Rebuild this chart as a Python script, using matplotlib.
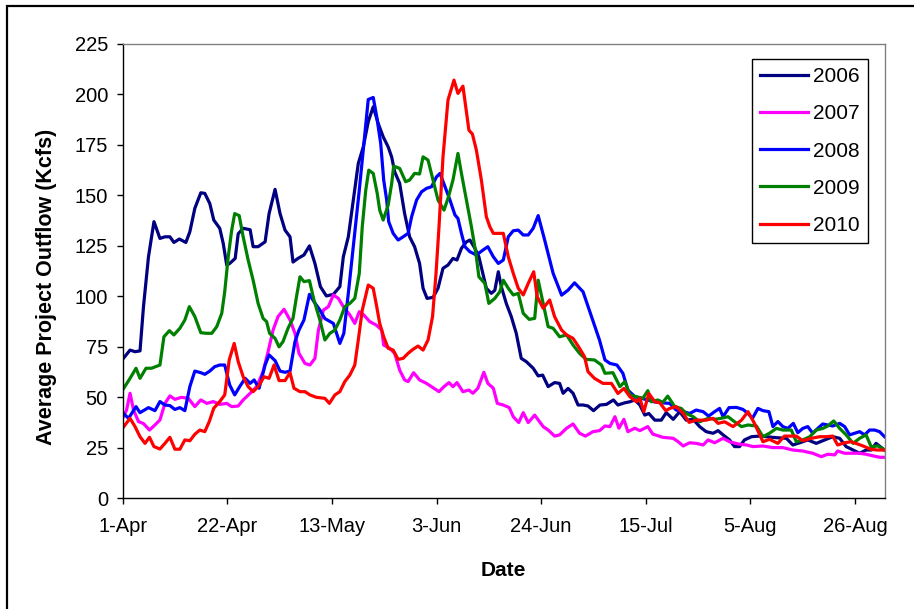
import matplotlib
matplotlib.use('Agg')
import matplotlib.pyplot as plt
from matplotlib.patches import Rectangle

plt.rcParams['font.family'] = ['Liberation Sans', 'DejaVu Sans']

# days counted from 1-Apr
tick_days = [0, 21, 42, 63, 84, 105, 126, 147]
tick_labels = ['1-Apr', '22-Apr', '13-May', '3-Jun', '24-Jun', '15-Jul', '5-Aug', '26-Aug']

d06 = [0, 1.5, 2.5, 3.5, 4.2, 5.2, 6.3, 7.5, 8.5, 9.5, 10.3, 11.4, 12.7, 13.5, 14.5, 15.7, 16.5, 17.5, 18.3, 19.5,
       20.2, 20.9, 21.5, 22.6, 23.2, 24.2, 25.6, 26.2, 27.2, 28.6, 29.4, 30.6, 31.6, 32.6, 33.6, 34.2, 35.2, 36.4, 37.5, 38.6,
       39.7, 40.9, 42.3, 43.6, 44.3, 45.3, 46.3, 47.3, 48.3, 49.3, 50.3, 51.3, 52.3, 53.3, 54, 54.6, 55.6, 56.6, 57.6, 58.6,
       59.6, 60.3, 61.1, 62.3, 63.3, 64.3, 65.3, 66.3, 67.1, 68, 69, 69.7, 70.7, 71.5, 72.3, 73, 74, 74.7, 75.4, 76,
       77, 78, 79, 80, 81, 82.4, 83.4, 84.3, 85.4, 86.7, 87.7, 88.4, 89.4, 90.4, 91.4, 92.4, 93.4, 94.5, 95.8, 97.1,
       98.5, 99.4, 100.8, 101.8, 102.8, 103.8, 104.8, 105.6, 106.8, 108.1, 109.1, 110.5, 111.8, 113.1, 114.5, 115.8, 117.1, 118.5, 119.5, 120.5,
       121.8, 122.8, 123.8, 124.8, 126.2, 127.8, 129.2, 131.2, 133.2, 134.5, 135.9, 137.5, 139.2, 140.9, 142.5, 143.9, 145.2, 146.6, 147.9, 149.2,
       150.2, 151.2, 152.9]
v06 = [68.8, 73.4, 72.6, 73, 95, 119.6, 137, 128.7, 129.5, 129.5, 126.7, 128.4, 126.7, 132, 143.6, 151.3, 151, 146, 137.8, 133.7,
       126.2, 115.5, 116.3, 118.8, 131, 133.7, 133, 124.6, 124.6, 127, 141, 153, 141, 132.8, 129.5, 117, 118.8, 120.5, 125, 116.3,
       104.8, 100.2, 101, 104.8, 119.6, 129.5, 147.7, 165.8, 174, 186.5, 193.9, 185.6, 179, 174, 169, 161.7, 156, 141, 129.5, 124.6,
       116.3, 104, 99, 99.5, 104, 113.9, 115.5, 118.8, 118, 123.8, 127, 127.9, 123.8, 119.6, 111.4, 104, 101.5, 103, 112.2, 104.8,
       96.5, 90, 81.7, 69.3, 67.7, 64.4, 60.6, 61, 55.3, 57.3, 56.9, 52, 54.4, 52, 46.2, 46.2, 45.7, 43.4, 46.2, 46.5,
       48.7, 46.2, 47.3, 47.8, 48.7, 46.2, 41.2, 42, 38.7, 38.7, 42.4, 39.1, 42.9, 38.7, 39.1, 35.5, 33, 32.2, 33.5, 31.4,
       28.9, 25.6, 25.6, 28.9, 30.5, 30.8, 30.5, 30, 29.7, 26.4, 27.5, 28.9, 27.2, 28.9, 30.5, 29.7, 25.6, 23.9, 22.3, 23.9,
       23.9, 27.2, 23.9]

d07 = [0, 0.8, 1.5, 2.2, 3.2, 4.2, 5.4, 6.5, 7.5, 8.5, 9.5, 10.5, 11.8, 13.2, 14.5, 15.7, 16.9, 18.2, 19.5, 20.9,
       21.9, 23.2, 24.2, 25.6, 26.9, 28.2, 29.2, 30.2, 31.2, 32.4, 33.6, 34.6, 35.4, 36.6, 37.6, 38.6, 39.3,
       40.3, 41.3, 42.3, 43.3, 44.3, 45.6, 46.6, 47.5, 48.4, 49.6, 50.9, 52, 52.4, 53.6, 54.6, 55.6, 56.6, 57.3, 58.4, 59.6,
       61, 62.3, 63.5, 64.5, 65.5, 66.3, 67.1, 68.3, 69.5, 70.3, 71.3, 72.5, 73.3, 74.4, 75.2, 76.4, 77.6, 78.4, 79.5, 80.4, 81.4,
       82.7, 84.4, 85.4, 86.7, 87.7, 89.1, 90.4, 91.7, 92.9, 94.4, 95.7, 96.8, 97.8, 98.8, 99.6, 100.6, 101.4, 102.8, 103.8, 105.4,
       106.4, 108.4, 110.5, 111.5, 112.5, 113.8, 115.1, 116.5, 117.5, 118.8, 120.5, 121.8, 123.5, 125.2, 126.5, 128.5, 130.5, 132.5, 134.5, 136.5,
       138.5, 140.2, 141.5, 142.9, 143.5, 144.9, 146.6, 147.9, 149.2, 150.6, 152, 152.9]
v07 = [39.6, 43.7, 52, 43.7, 38, 37, 33.8, 36.3, 38.8, 47, 50.7, 49, 50, 49.5, 45.4, 48.7, 47, 47.9, 46.5, 47,
       45.4, 45.7, 48.7, 52, 55.3, 62.7, 72.6, 83.3, 90, 93.6, 88.3, 81.7, 71.8, 66.8, 66, 69.3, 83.3,
       93.2, 94.9, 100.7, 99, 94.9, 90.8, 86.6, 92.4, 90.8, 87.5, 85.8, 83.3, 75.9, 74.3, 71.8, 63.5, 58.6, 57.8, 62.2, 58.6,
       56.9, 54.8, 52.8, 55.3, 57.3, 55.3, 57.3, 52.8, 53.6, 52, 54.5, 62.4, 56.9, 54.5, 47, 46.2, 44.9, 40.4, 37.5, 42.4, 37.5,
       41.2, 35.5, 33.8, 30.8, 31.4, 34.7, 36.8, 32.2, 30.8, 33, 33.5, 35.8, 35.5, 40.4, 34.7, 39.1, 33, 34.7, 33.5, 35.5,
       31.8, 30.2, 29.7, 28, 25.9, 27.5, 27.2, 26.4, 28.9, 27.5, 29.7, 28, 26.9, 26.4, 25.6, 25.9, 25.1, 25.1, 23.9, 23.4,
       22.3, 20.6, 21.8, 21.5, 23.4, 22.3, 22.3, 22.3, 21.8, 21, 20.3, 20.3]

d08 = [0, 1.2, 2.7, 3.5, 5.2, 6.5, 7.5, 8.5, 9.5, 10.5, 11.5, 12.5, 13.5, 14.5, 15.7, 16.5, 17.5, 18.5, 19.5, 20.5,
       21.5, 22.5, 23.5, 24.6, 25.6, 26.4, 27.4, 28.6, 29.4, 30.6, 31.6, 32.6, 33.6, 34.6, 35.4, 36.4, 37.5, 38.4,
       39.6, 40.6, 42.3, 43.6, 44.4, 45.3, 46.3, 47.5, 48.3, 49.3, 50.3, 51, 51.8, 52.4, 53, 53.4, 54.3, 55.3, 56.3, 57.3,
       58, 59, 60, 61, 62, 63, 63.7, 64.7, 65.7, 66.7, 67.3, 68, 68.7, 69.7, 71, 72.3, 73.3, 74.4, 75.4, 76.4,
       77.4, 78.4, 79.4, 80.4, 81.4, 82.4, 83.4,
       84.7, 86.4, 88.1, 89.4, 90.7, 92.4, 94.1, 95.7, 96.8, 97.8, 99.2, 100.4, 101.4, 102.8, 104.1, 105.4, 106.6, 108.1, 109.8, 111.1,
       112.5, 113.8, 115.1, 116.5, 117.6, 118.8, 119.8, 120.5, 121.7, 123.2, 124.5, 125.5, 126.4, 127.5, 128.5, 129.7, 130.5, 131.5, 132.5, 133.5,
       134.6, 135.5, 136.5, 137.5, 138.5, 139.5, 140.5, 141.5, 142.5, 143.9, 144.9, 145.9, 146.9, 147.9, 148.9, 149.9, 150.9, 151.9, 152.9]
v08 = [42.4, 39.6, 45.4, 42.4, 44.9, 43.4, 47.9, 46.2, 45.9, 44, 44.9, 43.4, 55.3, 63, 62.2, 61.4, 63, 65.2, 66, 66,
       56.1, 51.2, 55.3, 59.4, 56.9, 58.6, 54.5, 66, 71, 68.2, 63, 62.4, 63, 77.6, 83.3, 88.3, 101, 97.4,
       93.2, 89, 86.6, 76.7, 81.7, 101.5, 124.6, 152.6, 172.4, 197.5, 198.5, 189, 175.7, 157.6, 147.7, 137, 131.2, 127.9, 129.5, 131.2,
       139.4, 147.7, 151.8, 153.5, 154.3, 159.2, 160.9, 154.3, 147.7, 140.3, 138.6, 131.2, 124.6, 122.1, 120.5, 122.9, 124.6, 119.6, 116.3, 118,
       129.5, 132.5, 132.8, 130.4, 130.4, 133.7, 140,
       127.9, 111.4, 100.6, 103.1, 106.7, 102.3, 89.9, 78.4, 68.5, 66.8, 66, 61.9, 53.6, 50.3, 49.5, 48.7, 47.8, 47.3, 47, 43.7,
       42.9, 42, 43.7, 42.9, 40.7, 42.9, 44.5, 40.4, 44.9, 45, 44, 42, 39.6, 44.5, 43.4, 42.9, 35.5, 38, 35.5, 34.6,
       37.1, 32.5, 34.6, 35.5, 32.2, 34.6, 36.8, 36.3, 35.8, 37.1, 35.5, 31.4, 32.2, 33, 31.4, 33.8, 33.8, 33, 30.5]

d09 = [0, 1.5, 2.7, 3.5, 4.7, 5.8, 7.5, 8.3, 9.4, 10.3, 11.5, 12.5, 13.4, 14.5, 15.7, 16.9, 17.9, 18.9, 19.9, 20.5,
       21.2, 21.9, 22.5, 23.4, 24.2, 25.2, 26.2, 27.2, 28.2, 28.9, 29.5, 30.6, 31.4, 32.2, 33.2, 34.2, 34.9, 35.6, 36.4, 37.5,
       38.4, 39.6, 40.6, 41.6, 42.6, 43.6, 44.6, 45.6, 46.6, 47.5, 48.1, 48.8, 49.4, 50.3, 51.1, 51.6, 52.3, 53.3, 54, 54.4,
       55.6, 56.8, 57.6, 58.6, 59.6, 60.3, 61.3, 62.3, 63.3, 64.5, 65.3, 66.3, 67.3, 68, 69, 70, 70.9, 71.5, 72.7, 73.5,
       74.7, 75.7, 76.4, 77.4, 78.4, 79.4, 80.4, 81.6, 82.7, 83.4, 84.4,
       85.4, 86.4, 87.7, 89.1, 90.4, 91.7, 93, 94.7, 96.1, 96.8, 98.4, 99.8, 100.8, 101.8, 103.1, 104.4, 105.4, 106.1, 107.4, 108.4,
       109.4, 110.8, 112.1, 113.1, 114.5, 115.8, 117.5, 118.8, 120.1, 121.5, 122.8, 124.2, 125.5, 127.2, 128.5, 129.8, 131.2, 132.5, 134.2, 135.2,
       136.5, 137.9, 139.2, 140.5, 141.5, 142.7, 143.9, 145.2, 146.6, 147.9, 149.2, 150.2, 151.6, 152.9]
v09 = [53.6, 59.4, 64.4, 59.4, 64.4, 64.4, 66, 80, 83, 80.9, 84.2, 88.3, 94.9, 90, 82, 81.7, 81.7, 85, 91.6, 102.3,
       119.6, 132.8, 141, 140, 129.5, 118, 108, 96.5, 89.1, 87.5, 81.7, 79.2, 75, 77.6, 84.2, 89.1, 99.8, 109.7, 107.3, 107.8,
       98.2, 88.3, 78.4, 81.7, 83.3, 88.3, 94.9, 96.5, 99, 111.4, 134.5, 152.6, 162.5, 160.9, 151, 142.7, 137.8, 145.2, 155.9, 164.5,
       163.4, 156.8, 157.6, 160.9, 160.6, 169.1, 167.5, 157.6, 147.7, 142.7, 148.5, 157.6, 170.8, 160.9, 147.7, 134.5, 121.3, 109.7, 106.4, 96.5,
       99, 102.3, 108, 104, 100.7, 101.5, 91.6, 88.6, 89.1, 108, 96.5,
       85, 84.2, 80, 80.9, 75.9, 71.8, 68.8, 68.5, 66, 61.9, 62.2, 55.3, 57.8, 51.2, 50.3, 49.5, 53.3, 47.8, 48.7, 47.5,
       50.6, 45.4, 44.5, 42, 40.4, 37.9, 39.6, 39.1, 39.6, 40.4, 37.9, 35.5, 36.3, 35.8, 30.5, 32.2, 34.6, 33.8, 33.8, 28,
       28.9, 30.5, 33.8, 34.6, 35.8, 38.3, 34.6, 31.4, 27.2, 29.7, 31.4, 25.6, 25.9, 23.9]

d10 = [0, 1.5, 2.5, 3.5, 4.5, 5.4, 6.3, 7.5, 8.5, 9.5, 10.5, 11.5, 12.5, 13.5, 14.5, 15.5, 16.5, 17.4, 18.3, 19.5,
       20.5, 21.4, 22.4, 23.2, 24.2, 25.2, 26.2, 27.2, 28.4, 29.4, 30.4, 31.4, 32.6, 33.6, 34.4, 35.6, 36.6, 37.6, 38.9,
       40.6, 41.5, 42.6, 43.6, 44.6, 45.6, 46.6, 47.3, 48.1, 49.3, 50.3, 51, 51.6, 52.4, 53.3, 54.3, 55.3, 56.3, 57.3, 58.3,
       59.3, 60.3, 61.3, 62.2, 62.9, 63.5, 64.3, 65.3, 66.5, 67.3, 68.3, 69.5, 70.2, 71, 72, 73, 73.7, 74.4, 75.4, 76.4,
       77.4, 78.4, 79.4, 80.4, 81.4,
       82.5, 83.2, 84.4, 85.7, 86.7, 88.1, 89.1, 90.4, 91.7, 92.7, 93.4, 94.7, 96.4, 98.1, 99.4, 100.6, 101.8, 103.1, 103.8, 104.6,
       105.6, 106.8, 107.8, 109, 109.8, 111.1, 112.5, 113.7, 115.1, 117.1, 118.5, 119.5, 120.8, 122.5, 124.2, 125.5, 126.8, 128.5, 129.8, 131.5,
       132.8, 135.2, 136.5, 138.2, 139.9, 141.2, 142.5, 143.5, 144.9, 146.2, 147.5, 148.9, 150.2, 151.6, 152.9]
v10 = [34.7, 39.6, 35.5, 30.5, 27.2, 30.2, 25.6, 24.4, 27.2, 30.2, 24.3, 24.3, 28.9, 28.5, 31.7, 33.8, 33, 38, 44.6, 47.9,
       51.2, 68.5, 76.7, 67.7, 60.2, 55.3, 52.8, 55.3, 60.2, 59.4, 66, 58.3, 58.3, 62.2, 54.5, 52.8, 52.8, 51.2, 50,
       49.5, 47, 51.2, 52.8, 57.8, 61, 66, 78.4, 93.2, 105.6, 104, 94.9, 86.6, 80, 74.3, 73.4, 68.8, 69.3, 71.8, 73.8,
       75.4, 73.4, 78.4, 89.9, 111.4, 134.5, 169.1, 197.2, 207.1, 200.5, 204.1, 182.3, 180.4, 172.4, 157.6, 139.4, 134.5, 131.2, 131.2, 131.2,
       119.6, 111.4, 104, 100.7, 106.4,
       112.2, 99.8, 94.1, 98.2, 89.9, 83.3, 80.9, 79.2, 74.3, 70.1, 62.7, 59.4, 56.9, 56.9, 51.9, 54.4, 50.3, 47.8, 49.5, 42.9,
       51.9, 47.8, 47.3, 43.4, 44.5, 45.4, 42, 37.6, 38.7, 38.7, 39.6, 37.1, 37.9, 35.5, 38.7, 42.9, 37.1, 28, 29.2, 27.2,
       30.8, 30.8, 28.5, 29.7, 30.5, 30.5, 30.8, 26.4, 27.5, 28, 26.9, 25.6, 24.2, 23.9, 23.9]

series = [
    ('2006', d06, v06, '#000080'),
    ('2007', d07, v07, '#FF00FF'),
    ('2008', d08, v08, '#0000FF'),
    ('2009', d09, v09, '#008000'),
    ('2010', d10, v10, '#FF0000'),
]

fig = plt.figure(figsize=(9.14, 6.09), dpi=100)
ax = fig.add_axes([0.1341, 0.1818, 0.8342, 0.746])

for name, d, v, c in series:
    ax.plot(d, v, color=c, lw=2.3, label=name, solid_joinstyle='round')

ax.set_xlim(0, 153)
ax.set_ylim(0, 225)
ax.set_yticks(range(0, 226, 25))
ax.set_xticks(tick_days)
ax.set_xticklabels(tick_labels)
ax.tick_params(axis='both', direction='out', length=4.5, width=1, labelsize=14.5, colors='black')
ax.tick_params(axis='y', pad=6)
ax.tick_params(axis='x', pad=9)

for s in ['top', 'right']:
    ax.spines[s].set_color('#808080')
    ax.spines[s].set_linewidth(1)
for s in ['left', 'bottom']:
    ax.spines[s].set_color('black')
    ax.spines[s].set_linewidth(1)

ax.set_xlabel('Date', fontsize=15, fontweight='bold')
ax.set_ylabel('Average Project Outflow (Kcfs)', fontsize=15.5, fontweight='bold')
ax.xaxis.set_label_coords(0.5, -0.138)
ax.yaxis.set_label_coords(-0.086, 0.465)

leg = ax.legend(loc='upper right', bbox_to_anchor=(0.978, 0.967), borderaxespad=0,
                fontsize=15, frameon=True, fancybox=False, framealpha=1,
                handlelength=2.3, handletextpad=0.25, labelspacing=0.87,
                borderpad=0.4)
leg.get_frame().set_edgecolor('black')
leg.get_frame().set_linewidth(1)

# chart area border
fig.patches.append(Rectangle((7.5 / 914, -0.05), 1.2, 1.05 - 5.5 / 609, transform=fig.transFigure,
                             fill=False, edgecolor='black', lw=1.6, clip_on=False))

fig.savefig('out.png', dpi=100)
